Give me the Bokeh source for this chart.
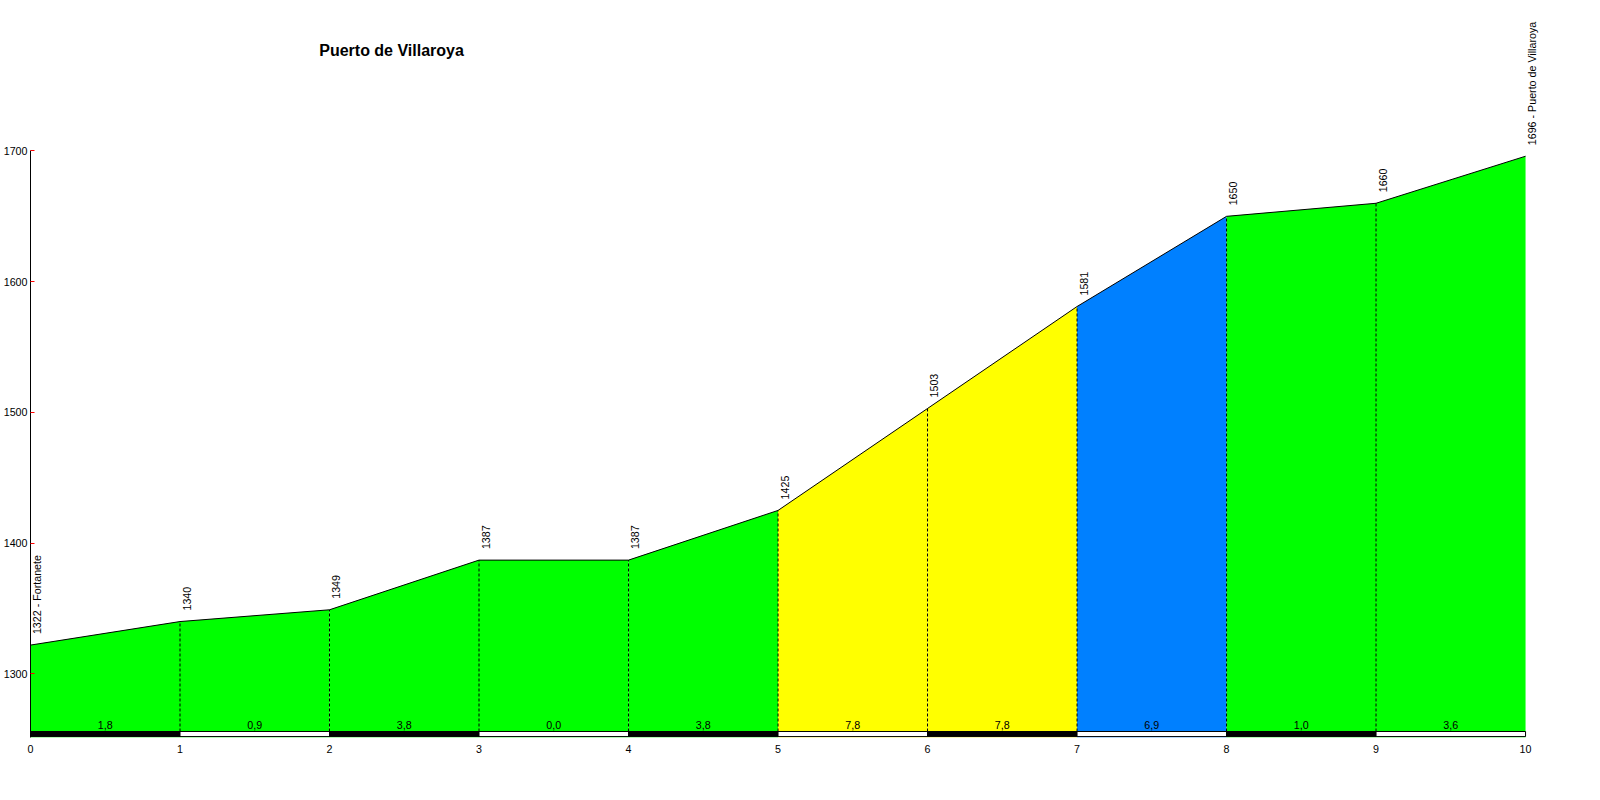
from bokeh.plotting import figure
from bokeh.models import Range1d, FixedTicker, Label
from bokeh.embed import file_html
from bokeh.resources import INLINE
from bokeh.core.properties import value

# ---- data ----
km = [0, 1, 2, 3, 4, 5, 6, 7, 8, 9, 10]
elev = [1322, 1340, 1349, 1387, 1387, 1425, 1503, 1581, 1650, 1660, 1696]
grades = ["1,8", "0,9", "3,8", "0,0", "3,8", "7,8", "7,8", "6,9", "1,0", "3,6"]
seg_colors = ["#00FF00", "#00FF00", "#00FF00", "#00FF00", "#00FF00",
              "#FFFF00", "#FFFF00", "#0080FF", "#00FF00", "#00FF00"]
elev_labels = ["1322 - Fortanete", "1340", "1349", "1387", "1387", "1425",
               "1503", "1581", "1650", "1660", "1696 - Puerto de Villaroya"]
y_ticks = [1300, 1400, 1500, 1600, 1700]
x_ticks = [0, 1, 2, 3, 4, 5, 6, 7, 8, 9, 10]
title_text = "Puerto de Villaroya"

FONT = value("Liberation Sans")
Y0, Y1 = 1251.3, 1809.0
BAR_B, BAR_T = 1252.0, 1255.9

p = figure(frame_width=1510, frame_height=729, output_backend="svg",
           toolbar_location=None, x_range=Range1d(0, 10.1), y_range=Range1d(Y0, Y1),
           min_border_left=0, min_border_top=8, min_border_right=30, min_border_bottom=5,
           background_fill_color="white", border_fill_color="white")
p.outline_line_color = None
p.grid.visible = False

n = len(km) - 1
xs = [[km[i], km[i], km[i + 1], km[i + 1]] for i in range(n)]
ys = [[Y0, elev[i], elev[i + 1], Y0] for i in range(n)]
p.patches(xs, ys, fill_color=seg_colors, line_alpha=0)

# profile line
p.line(km, elev, line_color="black", line_width=1)

# dashed separators
p.segment(x0=km[1:-1], y0=[BAR_T] * (n - 1), x1=km[1:-1], y1=elev[1:-1],
          line_color="black", line_dash="3 2", line_width=1)

# bottom km bar
bar_colors = ["black" if i % 2 == 0 else "white" for i in range(n)]
p.quad(left=km[:-1], right=km[1:], bottom=[BAR_B] * n, top=[BAR_T] * n,
       fill_color=bar_colors, line_color="black", line_width=1)

# gradient labels
mids = [(km[i] + km[i + 1]) / 2 for i in range(n)]
p.text(x=mids, y=[1261.2] * n, text=grades, text_font=FONT, text_font_size="10.7px",
       text_align="center", text_baseline="middle", text_color="black")

# elevation labels (rotated)
p.text(x=km, y=elev, text=elev_labels, angle=1.5708, text_font=FONT,
       text_font_size="10.7px", text_align="left", text_baseline="middle",
       x_offset=6.5, y_offset=-11, text_color="black")

# title
p.add_layout(Label(x=2.415, y=1776.9, text=title_text, text_font="Liberation Sans",
                   text_font_size="16px", text_font_style="bold",
                   text_align="center", text_baseline="middle", text_color="black"))

# axes
p.yaxis.ticker = FixedTicker(ticks=y_ticks)
p.yaxis.bounds = (Y0, 1700)
p.yaxis.minor_tick_line_color = None
p.yaxis.major_tick_in = 4
p.yaxis.major_tick_out = 0
p.yaxis.major_tick_line_color = "red"
p.yaxis.axis_line_color = "black"
p.yaxis.major_label_standoff = 3
p.yaxis.major_label_text_font = "Liberation Sans"
p.yaxis.major_label_text_font_size = "10.7px"
p.yaxis.major_label_text_color = "black"

p.xaxis.ticker = FixedTicker(ticks=x_ticks)
p.xaxis.axis_line_color = None
p.xaxis.major_tick_line_color = None
p.xaxis.minor_tick_line_color = None
p.xaxis.major_tick_in = 0
p.xaxis.major_tick_out = 0
p.xaxis.major_label_standoff = 7
p.xaxis.major_label_text_font = "Liberation Sans"
p.xaxis.major_label_text_font_size = "10.7px"
p.xaxis.major_label_text_color = "black"

open("out.html", "w").write(file_html(p, INLINE))
